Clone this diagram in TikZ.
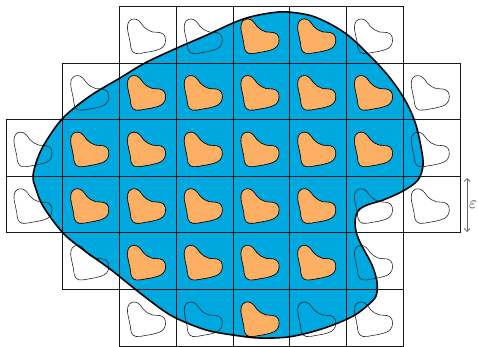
\documentclass[tikz,border=0pt]{standalone}
\usepackage{graphicx}
\usetikzlibrary{arrows.meta}
\definecolor{blobblue}{RGB}{0,168,224}
\definecolor{shapeorange}{RGB}{253,176,100}
\tikzset{
  gridline/.style={draw=black!90, line width=0.95pt},
  blobfill/.style={fill=blobblue},
  blobborder/.style={draw=black, line width=1.6pt},
  cellshape/.style={draw=black!85, line width=0.6pt},
  innershape/.style={draw=black, fill=shapeorange, line width=0.6pt},
  epsarrow/.style={draw=black!60, line width=0.8pt, {Straight Barb[length=3pt,width=6pt]}-{Straight Barb[length=3pt,width=6pt]}},
}
\newcommand{\smallshape}[3]{%
  \begin{scope}[shift={({6+56.75*#1},{6.5+56.6*#2})}, x=56.75bp, y=-56.6bp]
    \path[#3] plot[smooth cycle, tension=0.7] coordinates {(0.26,0.22) (0.35,0.26) (0.42,0.35) (0.49,0.41) (0.58,0.45) (0.71,0.46) (0.79,0.51) (0.81,0.61) (0.77,0.71) (0.66,0.77) (0.47,0.81) (0.29,0.83) (0.21,0.76) (0.19,0.64) (0.16,0.50) (0.14,0.37) (0.17,0.26)};
  \end{scope}}
\begin{document}
\begin{tikzpicture}[x=1bp, y=-1bp]
\useasboundingbox (0,0) rectangle (478,346);
% big region
\def\blobpath{plot[smooth cycle, tension=0.55] coordinates {(421,147) (423,165) (418,180) (403,191) (383,200) (367,205) (358,211) (355,222) (357,235) (363,248) (372,265) (377,282) (376,296) (368,305) (355,315) (338,323) (315,331) (288,337) (260,338) (240,336) (210,331) (187,323) (167,313) (140,293) (110,269) (85,251) (63,233) (43,206) (35,186) (33,176) (37,160) (45,143) (63,118) (90,96) (120,78) (145,63) (177,48) (207,35) (233,23) (250,17) (270,13) (288,12) (315,17) (345,33) (371,57) (390,78) (405,100) (415,122)}}
\path[blobfill] \blobpath;
% grid
\foreach \r/\a/\b in {0/2/6,1/1/7,2/0/7,3/0/7,4/1/6,5/2/6} {
  \foreach \c in {\a,...,\b} {
    \draw[gridline] ({6+56.75*\c},{6.5+56.6*\r}) rectangle ++(56.75,56.6);
    \smallshape{\c}{\r}{cellshape}
  }
}
% interior shapes
\foreach \c/\r in {4/0,5/0,2/1,3/1,4/1,5/1,6/1,1/2,2/2,3/2,4/2,5/2,6/2,1/3,2/3,3/3,4/3,5/3,2/4,3/4,4/4,5/4,4/5} {
  \smallshape{\c}{\r}{innershape}
}
\path[blobborder] \blobpath;
% epsilon
\coordinate (etop) at (467,178);
\coordinate (ebot) at (467,232);
\draw[epsarrow] (etop) -- (ebot);
\node[anchor=west, inner sep=0pt, text=black!80] (eps) at (469,205) {\scalebox{1.7}{$\varepsilon$}};
\end{tikzpicture}
\end{document}
